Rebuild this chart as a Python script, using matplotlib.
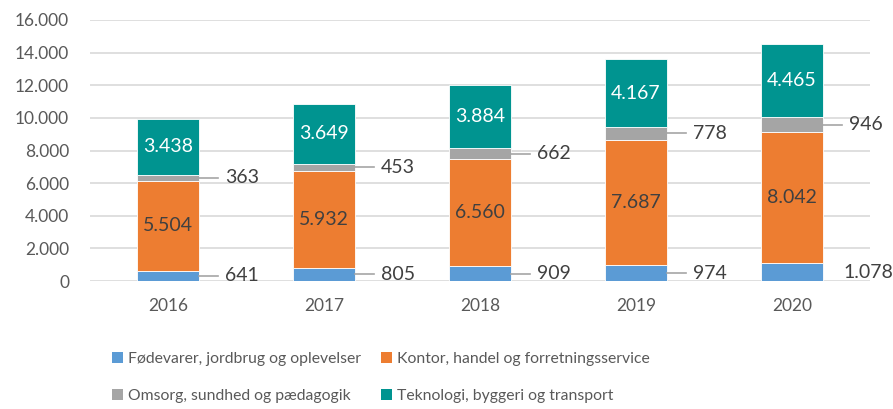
import matplotlib
matplotlib.use("Agg")
import matplotlib.pyplot as plt
from matplotlib.patches import Patch
import numpy as np

years = ["2016", "2017", "2018", "2019", "2020"]
series_names = ["Fødevarer, jordbrug og oplevelser",
                "Kontor, handel og forretningsservice",
                "Omsorg, sundhed og pædagogik",
                "Teknologi, byggeri og transport"]
foedevarer = [641, 805, 909, 974, 1078]
kontor = [5504, 5932, 6560, 7687, 8042]
omsorg = [363, 453, 662, 778, 946]
teknologi = [3438, 3649, 3884, 4167, 4465]
yticks = [0, 2000, 4000, 6000, 8000, 10000, 12000, 14000, 16000]

colors = ["#5B9BD5", "#ED7D31", "#A5A5A5", "#009490"]
plt.rcParams['font.family'] = ['Lato', 'DejaVu Sans']

def fmt(v):
    return f"{v:,}".replace(",", ".")

fig = plt.figure(figsize=(8.93, 4.09), dpi=100)
ax = fig.add_axes([90/893, 1-281/409, 780/893, 261/409])

x = np.arange(len(years))
w = 0.4
data = [foedevarer, kontor, omsorg, teknologi]
bottom = np.zeros(len(years))
for i, vals in enumerate(data):
    vals = np.array(vals, dtype=float)
    ax.bar(x, vals, w, bottom=bottom, color=colors[i], edgecolor="white",
           linewidth=0.6, zorder=3)
    centers = bottom + vals/2
    for j in range(len(years)):
        if i in (1, 3):
            ax.text(x[j], centers[j], fmt(int(vals[j])), ha="center", va="center",
                    fontsize=14, color="white" if i == 3 else "#404040", zorder=4)
        else:
            xe = x[j] + w/2
            if not (i == 0 and j == 4):
                ax.plot([xe, xe + 0.12], [centers[j], centers[j]], color="#A5A5A5",
                        lw=1.2, zorder=4, clip_on=False)
                tx = xe + 0.165
            else:
                tx = xe + 0.13
            ax.text(tx, centers[j], fmt(int(vals[j])), ha="left", va="center",
                    fontsize=14, color="#404040", zorder=4, clip_on=False)
    bottom = bottom + vals

ax.set_xlim(-0.5, 4.5)
ax.set_ylim(0, 16000)
ax.set_yticks(yticks)
ax.set_yticklabels([fmt(v) for v in yticks])
ax.set_xticks(x)
ax.set_xticklabels(years)
ax.yaxis.grid(True, color="#D9D9D9", lw=1.2, zorder=0)
ax.set_axisbelow(True)
for s in ax.spines.values():
    s.set_visible(False)
ax.tick_params(axis="both", length=0, labelsize=12.5, colors="#595959")
ax.tick_params(axis="y", pad=15)
ax.tick_params(axis="x", pad=12)

order = [0, 2, 1, 3]
handles = [Patch(facecolor=colors[k], edgecolor="none") for k in order]
labels = [series_names[k] for k in order]
fig.legend(handles, labels, loc="upper left", bbox_to_anchor=(104/893, 1-344/409),
           ncol=2, frameon=False, labelcolor="#595959", fontsize=11.3,
           handlelength=0.7, handleheight=0.7, handletextpad=0.3,
           columnspacing=1.3, labelspacing=1.5, borderpad=0)

fig.savefig("out.png", dpi=100)
